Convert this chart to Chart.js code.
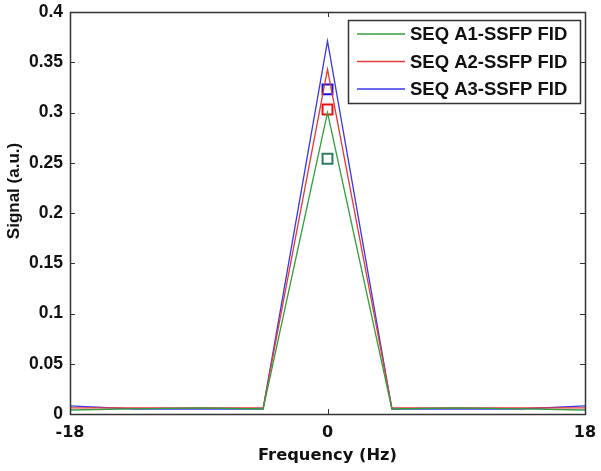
<!DOCTYPE html>
<html>
<head>
<meta charset="utf-8">
<script src="https://cdn.jsdelivr.net/npm/chart.js@4"></script>
<style>
  html, body { margin: 0; padding: 0; background: #fff; }
  #wrap { width: 601px; height: 471px; }
</style>
</head>
<body>
<div id="wrap"><canvas id="myChart" width="601" height="471"></canvas></div>
<script>
// data
var freqs = [-18, -13.5, -9, -4.5, 0, 4.5, 9, 13.5, 18];
var seqA1 = [0.004, 0.005, 0.006, 0.005, 0.300, 0.005, 0.006, 0.005, 0.004];
var seqA2 = [0.006, 0.006, 0.006, 0.006, 0.343, 0.006, 0.006, 0.006, 0.006];
var seqA3 = [0.008, 0.005, 0.005, 0.005, 0.371, 0.005, 0.005, 0.005, 0.008];
var markerX = [0, 0, 0];
var markerY = [0.254, 0.303, 0.323];   // A1, A2, A3
var seriesLabels = ['SEQ A1-SSFP FID', 'SEQ A2-SSFP FID', 'SEQ A3-SSFP FID'];
var xTicks = [-18, 0, 18];
var yTicks = [0, 0.05, 0.1, 0.15, 0.2, 0.25, 0.3, 0.35, 0.4];
var yTitle = 'Signal (a.u.)';

var lineColors = ['#33a03a', '#e8393a', '#3a3ae8'];
var markerColors = ['#2e7d5a', '#e81010', '#1010e0'];

function pts(ys) {
    return freqs.map((f, i) => ({ x: f, y: ys[i] }));
}

var datasets = [seqA1, seqA2, seqA3].map((s, i) => ({
    label: seriesLabels[i],
    data: pts(s),
    borderColor: lineColors[i],
    borderWidth: 1.3,
    pointRadius: 0,
    fill: false,
    tension: 0
}));
markerY.forEach((v, i) => {
    datasets.push({
        label: 'marker' + i,
        data: [{ x: markerX[i], y: v }],
        showLine: false,
        pointStyle: 'rect',
        pointRadius: 7,
        borderColor: markerColors[i],
        backgroundColor: 'rgba(0,0,0,0)',
        pointBorderWidth: 2
    });
});

var arial = '"Liberation Sans", Arial, sans-serif';
var tahoma = '"DejaVu Sans", Tahoma, sans-serif';

// box, inward ticks, legend, y title
var matlabAxes = {
    id: 'matlabAxes',
    afterDraw(chart) {
        var c = chart.ctx, a = chart.chartArea;
        var xs = chart.scales.x, ys = chart.scales.y;
        c.save();
        c.strokeStyle = '#333';
        c.lineWidth = 1;
        c.beginPath();
        xTicks.forEach(t => {
            var px = Math.round(xs.getPixelForValue(t)) + 0.5;
            c.moveTo(px, a.bottom); c.lineTo(px, a.bottom - 5);
            c.moveTo(px, a.top); c.lineTo(px, a.top + 5);
        });
        yTicks.forEach(t => {
            var py = Math.round(ys.getPixelForValue(t)) + 0.5;
            c.moveTo(a.left, py); c.lineTo(a.left + 5, py);
            c.moveTo(a.right, py); c.lineTo(a.right - 5, py);
        });
        c.stroke();
        c.lineWidth = 1.5;
        c.strokeRect(Math.round(a.left) + 0.5, Math.round(a.top) + 0.5,
            Math.round(a.right - a.left), Math.round(a.bottom - a.top));

        // y title, sitting a little above the middle as in the original
        c.save();
        c.translate(14, 191);
        c.rotate(-Math.PI / 2);
        c.font = 'bold 17px ' + arial;
        c.fillStyle = '#111';
        c.textAlign = 'center';
        c.textBaseline = 'middle';
        c.fillText(yTitle, 0, 0);
        c.restore();

        // legend
        var lx = 348, ly = 20, lw = 232, lh = 83;
        c.fillStyle = '#fff';
        c.fillRect(lx, ly, lw, lh);
        c.lineWidth = 1.5;
        c.strokeStyle = '#333';
        c.strokeRect(lx + 0.5, ly + 0.5, lw, lh);
        c.font = 'bold 18.5px ' + arial;
        c.textBaseline = 'middle';
        seriesLabels.forEach((lab, i) => {
            var y = ly + 14 + i * 27.5;
            c.strokeStyle = lineColors[i];
            c.lineWidth = 1.3;
            c.beginPath();
            c.moveTo(357, y); c.lineTo(405, y);
            c.stroke();
            c.fillStyle = '#111';
            c.fillText(lab, 410, y + 1);
        });
        c.restore();
    }
};

var ctx = document.getElementById('myChart').getContext('2d');
var myChart = new Chart(ctx, {
    type: 'line',
    data: { datasets: datasets },
    options: {
        responsive: false,
        animation: false,
        maintainAspectRatio: false,
        layout: { padding: { top: 12, right: 16, left: 0, bottom: 0 } },
        plugins: {
            legend: { display: false },
            tooltip: { enabled: false }
        },
        scales: {
            x: {
                type: 'linear',
                min: -18,
                max: 18,
                afterBuildTicks: s => { s.ticks = xTicks.map(v => ({ value: v })); },
                afterFit: s => { s.height = 57; s.paddingLeft = 0; s.paddingRight = 0; },
                grid: { display: false, drawTicks: false },
                border: { display: false },
                ticks: {
                    color: '#111',
                    padding: 9,
                    maxRotation: 0,
                    font: { family: tahoma, size: 16, weight: 'bold' }
                },
                title: {
                    display: true,
                    text: 'Frequency (Hz)',
                    color: '#111',
                    padding: { top: 0, bottom: 5 },
                    font: { family: tahoma, size: 16.3, weight: 'bold' }
                }
            },
            y: {
                min: 0,
                max: 0.4,
                afterBuildTicks: s => { s.ticks = yTicks.map(v => ({ value: v })); },
                afterFit: s => { s.width = 70; s.paddingTop = 0; s.paddingBottom = 0; },
                grid: { display: false, drawTicks: false },
                border: { display: false },
                ticks: {
                    color: '#111',
                    padding: 7,
                    callback: v => String(+v.toFixed(2)),
                    font: { family: arial, size: 17.5, weight: 'bold' }
                },
                title: { display: false }
            }
        }
    },
    plugins: [matlabAxes]
});
</script>
</body>
</html>
